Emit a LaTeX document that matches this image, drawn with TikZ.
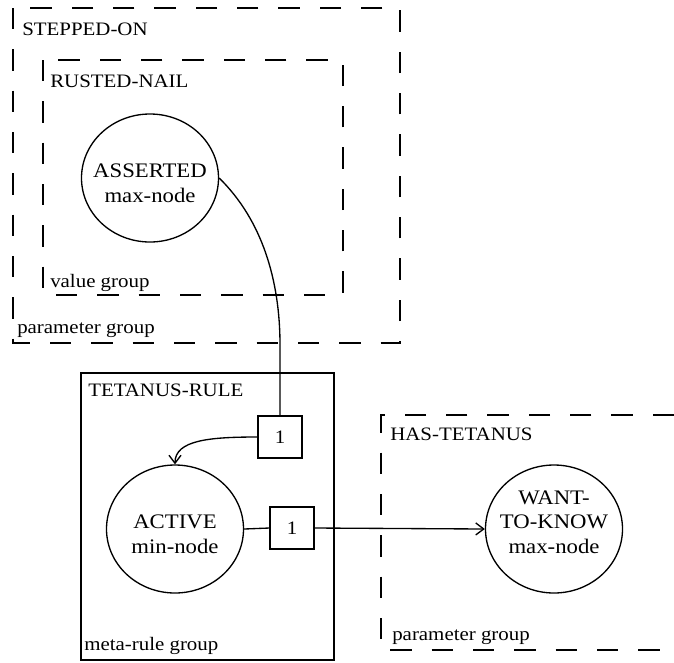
\documentclass[tikz,border=0pt]{standalone}
\usepackage{fontspec}
\setmainfont{Liberation Serif}[FakeStretch=1.1]
\usetikzlibrary{shapes.geometric,arrows.meta}
\begin{document}
\begin{tikzpicture}[x=0.75pt,y=-0.75pt,
  every node/.style={font=\fontsize{14.25pt}{18.5pt}\selectfont},
  grp/.style={draw, line width=1.1pt, dash pattern=on 16pt off 15pt},
  rulebox/.style={draw, line width=1pt},
  lbl/.style={anchor=base west, inner sep=0pt},
  ell/.style={draw, ellipse, line width=1pt, minimum width=102.75pt, minimum height=96pt, inner sep=0pt},
  elltext/.style={align=center, inner sep=0pt, font=\fontsize{15.5pt}{18.5pt}\selectfont},
  numbox/.style={draw, line width=1pt, minimum width=33pt, minimum height=31.5pt, inner sep=0pt},
  conn/.style={line width=1pt},
  arrowed/.style={-{Straight Barb[length=6pt,width=9pt,line width=1pt]}}
]
\useasboundingbox (0,0) rectangle (674,662);

% group frames
\draw[grp] (13,8) rectangle (400,343);
\draw[grp] (43,60) rectangle (343,295);
\draw[rulebox] (81,373) rectangle (334,660);
\draw[grp] (674,415) -- (381,415) -- (381,650) -- (674,650);

% labels
\node[lbl] (steppedlbl) at (22,35) {STEPPED-ON};
\node[lbl] (rustedlbl) at (50,87) {RUSTED-NAIL};
\node[lbl] (valuelbl) at (50,287) {value group};
\node[lbl] (paramlbla) at (17,333) {parameter group};
\node[lbl] (tetlbl) at (88,396) {TETANUS-RULE};
\node[lbl] (metalbl) at (84,650) {meta-rule group};
\node[lbl] (haslbl) at (390,440) {HAS-TETANUS};
\node[lbl] (paramlblb) at (392,640) {parameter group};

% nodes
\node[ell] (asserted) at (150,178) {};
\node[elltext] (assertedtxt) at (150,183) {ASSERTED\\max-node};
\node[ell] (active) at (175,529) {};
\node[elltext] (activetxt) at (175,534) {ACTIVE\\min-node};
\node[ell] (want) at (554,529) {};
\node[elltext] (wanttxt) at (554,522) {WANT-\\TO-KNOW\\max-node};
\node[numbox] (b1) at (280,437) {1};
\node[numbox] (b2) at (292,528) {1};

% connectors
\draw[conn] (asserted.east) .. controls (262,220) and (280,280) .. (280,345) -- (b1.north);
\draw[conn,arrowed] (b1.west) .. controls (210,437) and (175,440) .. (active.north);
\draw[conn] (active.east) -- (b2.west);
\draw[conn,arrowed] (b2.east) -- (want.west);
\end{tikzpicture}
\end{document}
